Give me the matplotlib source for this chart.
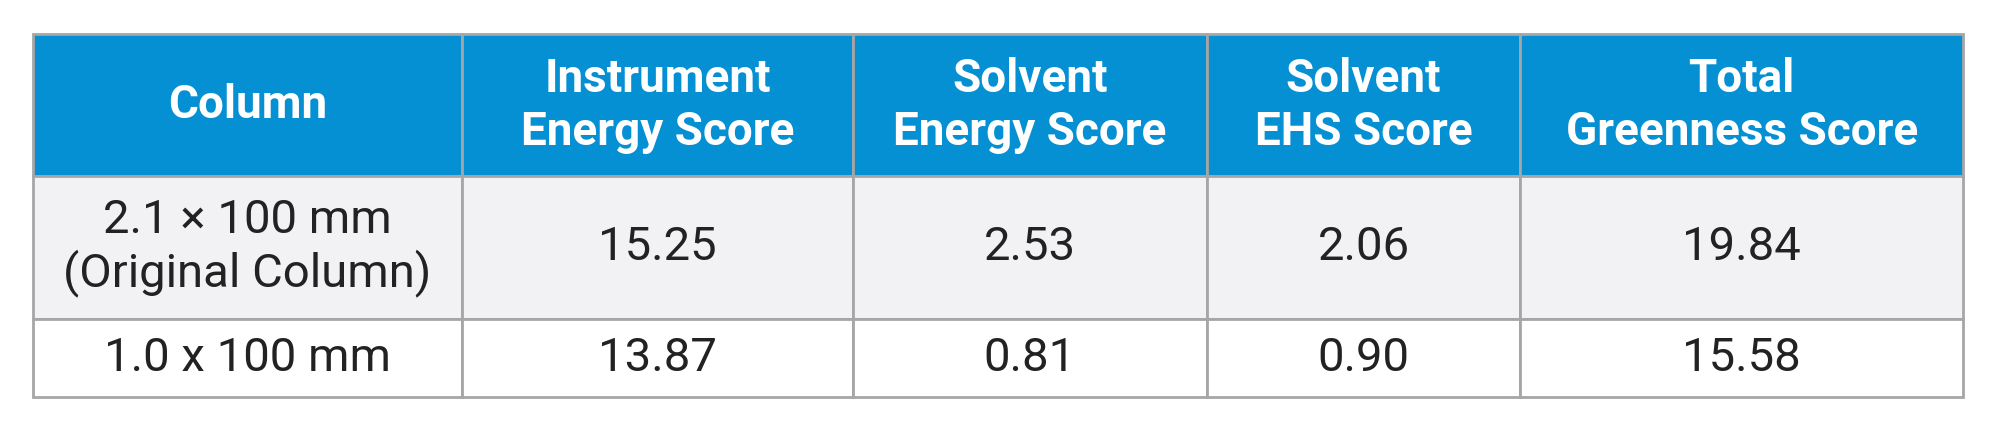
import matplotlib.pyplot as plt
from matplotlib.patches import Rectangle

plt.rcParams['font.family'] = ['Roboto', 'DejaVu Sans']

headers = ["Column", "Instrument\nEnergy Score", "Solvent\nEnergy Score",
           "Solvent\nEHS Score", "Total\nGreenness Score"]
columns = ["2.1 \u00d7 100 mm\n(Original Column)", "1.0 x 100 mm"]
instrument = ["15.25", "13.87"]
solvent_energy = ["2.53", "0.81"]
solvent_ehs = ["2.06", "0.90"]
total = ["19.84", "15.58"]

# column edges and row edges in figure fraction
xs = [0.0166, 0.2309, 0.4267, 0.6033, 0.7602, 0.9815]
ys = [0.922, 0.600, 0.275, 0.0986]
fills = ["#0590D3", "#F2F2F4", "#FFFFFF"]
edge = "#A6A6A6"

fig = plt.figure(figsize=(20, 4.4), dpi=100)
ax = fig.add_axes([0, 0, 1, 1])
ax.set_xlim(0, 1)
ax.set_ylim(0, 1)
ax.axis("off")

rows = [headers] + [list(r) for r in zip(columns, instrument, solvent_energy, solvent_ehs, total)]
for r, row in enumerate(rows):
    y0, y1 = ys[r + 1], ys[r]
    for c, txt in enumerate(row):
        x0, x1 = xs[c], xs[c + 1]
        ax.add_patch(Rectangle((x0, y0), x1 - x0, y1 - y0, facecolor=fills[r],
                               edgecolor=edge, linewidth=2))
        if r == 0:
            ax.text((x0 + x1) / 2, (y0 + y1) / 2, txt, ha="center", va="center",
                    fontsize=33, color="white", fontweight="bold", linespacing=1.25)
        else:
            ax.text((x0 + x1) / 2, (y0 + y1) / 2, txt, ha="center", va="center",
                    fontsize=34, color="#222222", linespacing=1.2)

fig.savefig("out.png", dpi=100)
